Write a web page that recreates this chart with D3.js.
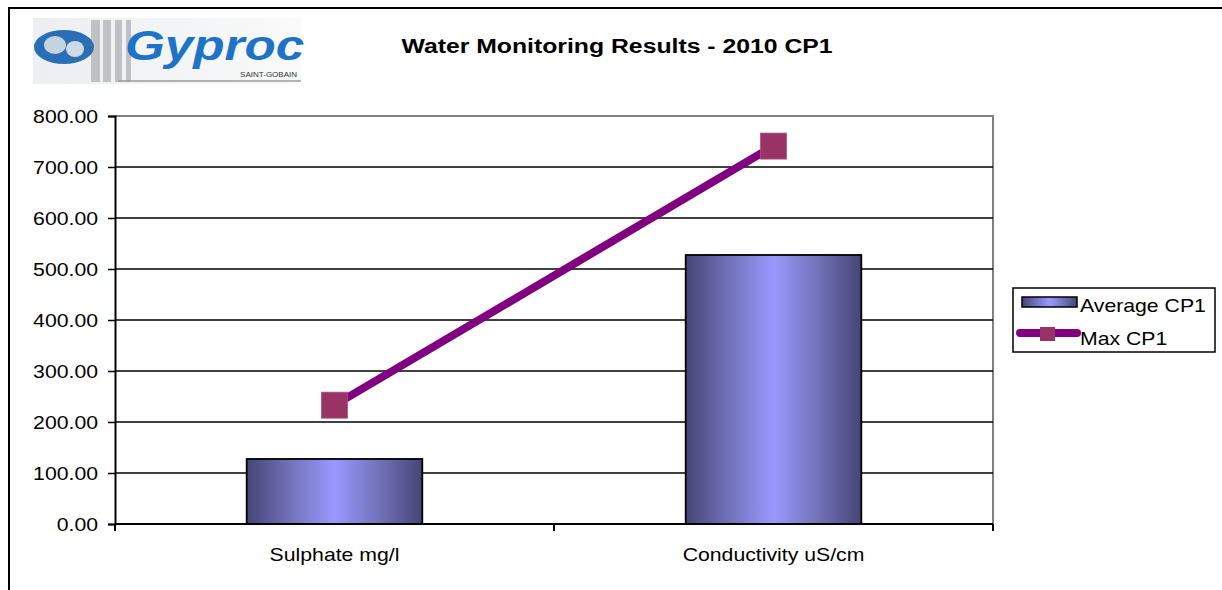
<!DOCTYPE html>
<html>
<head>
<meta charset="utf-8">
<script src="https://cdn.jsdelivr.net/npm/d3@7"></script>
<style>
	body { margin: 0; background: #fff; }
	text { font-family: Arial, "Liberation Sans", sans-serif; }
</style>
</head>
<body>
<div id="container"></div>
<script>
const categories=["Sulphate mg/l", "Conductivity uS/cm"];
const averageCP1=[127.5, 527.5];
const maxCP1=[233, 741];
const yTicks=[0, 100, 200, 300, 400, 500, 600, 700, 800];

const w=1222;
const h=590;
const margin={top:116, left:115, bottom:66, right:229};
const graphWidth=w-margin.left-margin.right;
const graphHeight=h-margin.top-margin.bottom;
const stretch=1.18; // text in the picture is a bit wide

const svg=d3.select("#container").append("svg").attr("width", w).attr("height", h);

// put a text at x,y and widen it a little
function wideText(sel, x, y, str, size){
	return sel.append("text")
		.attr("transform", `translate(${x},${y}) scale(${stretch},1)`)
		.attr("font-size", size)
		.text(str);
}

// gradient for the bars
const defs=svg.append("defs");
const grad=defs.append("linearGradient").attr("id", "barGrad").attr("x1", "0%").attr("x2", "100%").attr("y1", "0%").attr("y2", "0%");
[[0, "#454575"], [0.25, "#7272bb"], [0.5, "#9999ff"], [0.75, "#7272bb"], [1, "#454575"]].forEach(s => {
	grad.append("stop").attr("offset", s[0]).attr("stop-color", s[1]);
});
const logoGrad=defs.append("linearGradient").attr("id", "logoGrad").attr("x1", "0%").attr("x2", "100%");
logoGrad.append("stop").attr("offset", 0).attr("stop-color", "#eceef1");
logoGrad.append("stop").attr("offset", 1).attr("stop-color", "#fafafa");

// outer frame
svg.append("path").attr("d", `M9,${h} V8 H${w}`).attr("fill", "none").attr("stroke", "#000").attr("stroke-width", 2);

// logo
const logo=svg.append("g").attr("transform", "translate(33,18)");
logo.append("rect").attr("x", 0).attr("y", 0).attr("width", 268).attr("height", 66).attr("fill", "url(#logoGrad)");
[[58, 9], [70, 8], [82, 7], [93, 5]].forEach(s => {
	logo.append("rect").attr("x", s[0]).attr("y", 2).attr("width", s[1]).attr("height", 62).attr("fill", "#bfc1c4");
});
logo.append("ellipse").attr("cx", 31).attr("cy", 29).attr("rx", 30).attr("ry", 17).attr("fill", "#2a6fb5");
logo.append("ellipse").attr("cx", 22).attr("cy", 27).attr("rx", 11).attr("ry", 9).attr("fill", "#c5d3df");
logo.append("ellipse").attr("cx", 42).attr("cy", 31).attr("rx", 9).attr("ry", 8).attr("fill", "#d0dae4");
logo.append("text").attr("transform", "translate(92,42) scale(1.22,1)").text("Gyproc")
	.attr("font-size", 42).attr("font-weight", "bold").attr("font-style", "italic").attr("fill", "#1e73c8");
logo.append("line").attr("x1", 85).attr("x2", 268).attr("y1", 63).attr("y2", 63).attr("stroke", "#9a9a9a").attr("stroke-width", 1.5);
logo.append("text").attr("x", 264).attr("y", 59).attr("text-anchor", "end").text("SAINT-GOBAIN")
	.attr("font-size", 8).attr("fill", "#333");

// title
wideText(svg, 617, 53, "Water Monitoring Results - 2010 CP1", 21)
	.attr("text-anchor", "middle").attr("font-weight", "bold");

const graph=svg.append("g").attr("transform", `translate(${margin.left}, ${margin.top})`);

const xScale=d3.scaleBand().domain(categories).range([0, graphWidth]);
const yScale=d3.scaleLinear().domain([0, 800]).range([graphHeight, 0]);

// plot area border
graph.append("path").attr("d", `M0,0 H${graphWidth} V${graphHeight}`).attr("fill", "none").attr("stroke", "#808080").attr("stroke-width", 2);

// gridlines
graph.selectAll(".grid").data(yTicks.slice(1, -1)).enter().append("line")
	.attr("x1", 0).attr("x2", graphWidth)
	.attr("y1", d => yScale(d)).attr("y2", d => yScale(d))
	.attr("stroke", "#000").attr("stroke-width", 1.3);

// bars
const barW=xScale.bandwidth()*0.4;
graph.selectAll(".bar").data(averageCP1).enter().append("rect")
	.attr("x", (d, i) => xScale(categories[i])+xScale.bandwidth()/2-barW/2)
	.attr("y", d => yScale(d))
	.attr("width", barW)
	.attr("height", d => graphHeight-yScale(d))
	.attr("fill", "url(#barGrad)")
	.attr("stroke", "#000").attr("stroke-width", 1.8);

// axes
const yAxis=d3.axisLeft(yScale).tickValues(yTicks).tickFormat(d3.format(".2f")).tickSize(7);
const yAxisGroup=graph.append("g").call(yAxis);
yAxisGroup.select(".domain").attr("stroke-width", 2);
yAxisGroup.selectAll(".tick line").attr("stroke-width", 1.5);
yAxisGroup.selectAll(".tick text")
	.attr("x", null).attr("dy", null)
	.attr("transform", `translate(-17,6.5) scale(${stretch},1)`)
	.attr("font-size", 18).attr("font-family", "Arial, 'Liberation Sans', sans-serif").attr("fill", "#000");

const xAxisGroup=graph.append("g").attr("transform", `translate(0, ${graphHeight})`);
xAxisGroup.append("line").attr("x1", 0).attr("x2", graphWidth).attr("stroke", "#000").attr("stroke-width", 2);
xAxisGroup.selectAll(".xt").data([0, 1, 2]).enter().append("line")
	.attr("x1", d => d*xScale.step()).attr("x2", d => d*xScale.step())
	.attr("y1", 0).attr("y2", 7).attr("stroke", "#000").attr("stroke-width", 2);
categories.forEach(c => {
	wideText(xAxisGroup, xScale(c)+xScale.bandwidth()/2, 37, c, 18).attr("text-anchor", "middle");
});

// max line
const line=d3.line().x((d, i) => xScale(categories[i])+xScale.bandwidth()/2).y(d => yScale(d));
graph.append("path").datum(maxCP1).attr("d", line).attr("fill", "none").attr("stroke", "#800080").attr("stroke-width", 8);
graph.selectAll(".pt").data(maxCP1).enter().append("rect")
	.attr("x", (d, i) => xScale(categories[i])+xScale.bandwidth()/2-13)
	.attr("y", d => yScale(d)-13)
	.attr("width", 26).attr("height", 26)
	.attr("fill", "#993366").attr("stroke", "#b05080").attr("stroke-width", 0.8);

// legend
const legend=svg.append("g").attr("transform", "translate(1013,288)");
legend.append("rect").attr("x", 0).attr("y", 0).attr("width", 202).attr("height", 64)
	.attr("fill", "#fff").attr("stroke", "#000").attr("stroke-width", 1.5);
legend.append("rect").attr("x", 9).attr("y", 9).attr("width", 55).attr("height", 10)
	.attr("fill", "url(#barGrad)").attr("stroke", "#000").attr("stroke-width", 1.5);
wideText(legend, 67, 24, "Average CP1", 18);
legend.append("line").attr("x1", 7).attr("x2", 64).attr("y1", 45).attr("y2", 45)
	.attr("stroke", "#800080").attr("stroke-width", 8).attr("stroke-linecap", "round");
legend.append("rect").attr("x", 27).attr("y", 39).attr("width", 15).attr("height", 14).attr("fill", "#993366");
wideText(legend, 67, 57, "Max CP1", 18);
</script>
</body>
</html>
